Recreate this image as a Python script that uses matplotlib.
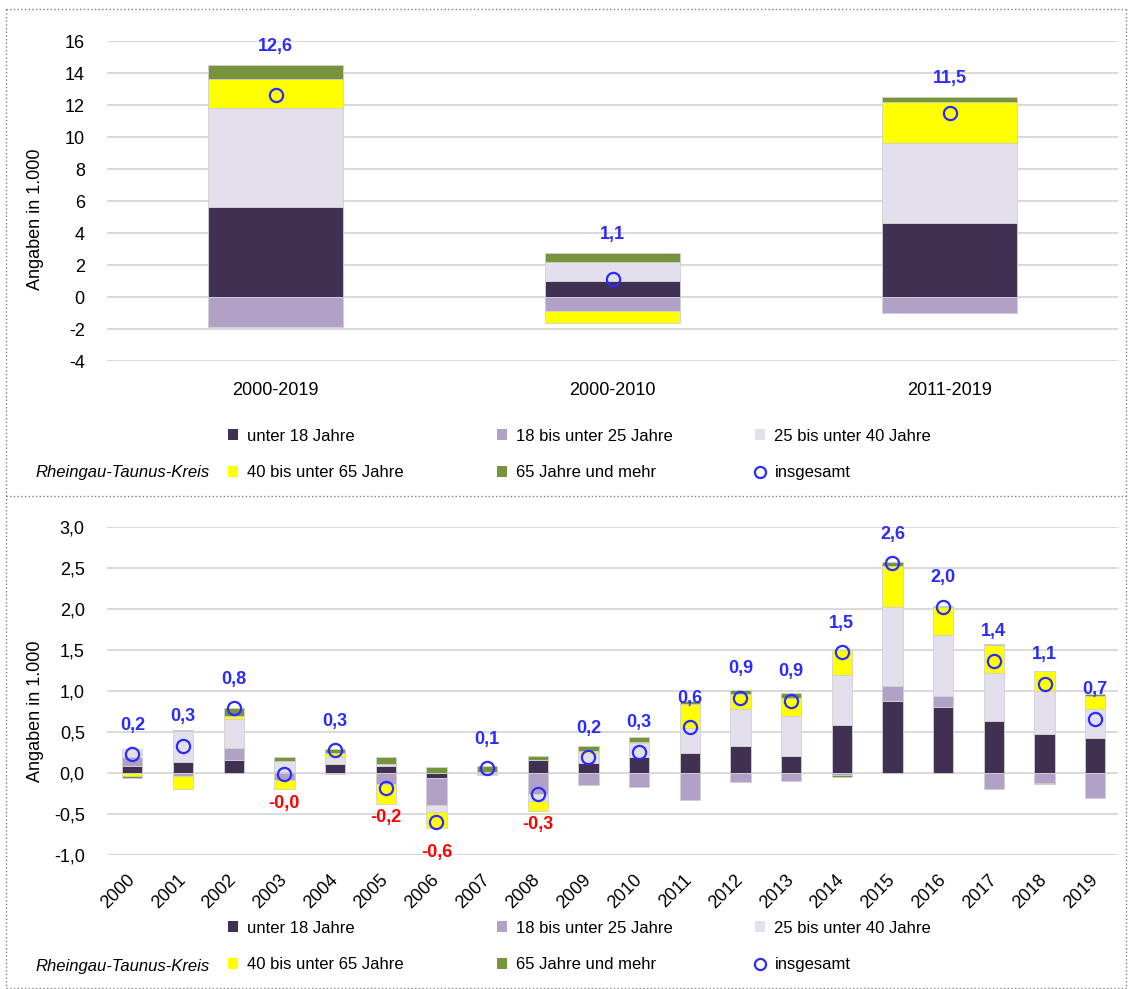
import numpy as np
import matplotlib.pyplot as plt
from matplotlib.patches import Patch
from matplotlib.lines import Line2D
from matplotlib.ticker import FuncFormatter

plt.rcParams['font.family'] = ['Liberation Sans Narrow', 'Liberation Sans', 'DejaVu Sans']

# --- data (Angaben in 1.000) ---
groups = ['unter 18 Jahre', '18 bis unter 25 Jahre', '25 bis unter 40 Jahre',
          '40 bis unter 65 Jahre', '65 Jahre und mehr']
total_name = 'insgesamt'
region = 'Rheingau-Taunus-Kreis'

periods = ['2000-2019', '2000-2010', '2011-2019']
per_u18 = [5.6, 1.0, 4.6]
per_18_25 = [-1.9, -0.9, -1.0]
per_25_40 = [6.2, 1.19, 5.0]
per_40_65 = [1.8, -0.73, 2.6]
per_65 = [0.9, 0.56, 0.3]
per_total = [12.6, 1.12, 11.5]

years = [str(y) for y in range(2000, 2020)]
yr_u18 = [0.08, 0.13, 0.155, 0.01, 0.11, 0.085, -0.06, 0.0, 0.16, 0.126,
          0.195, 0.245, 0.335, 0.21, 0.58, 0.875, 0.80, 0.63, 0.475, 0.43]
yr_18_25 = [0.11, -0.04, 0.15, -0.08, -0.01, -0.13, -0.33, -0.01, -0.26, -0.15,
            -0.17, -0.33, -0.11, -0.1, -0.03, 0.19, 0.135, -0.2, -0.12, -0.31]
yr_25_40 = [0.10, 0.38, 0.355, 0.14, 0.09, 0.025, -0.085, 0.01, -0.08, 0.118,
            0.17, 0.305, 0.44, 0.48, 0.62, 0.955, 0.75, 0.59, 0.53, 0.35]
yr_40_65 = [-0.04, -0.16, 0.035, -0.12, 0.045, -0.245, -0.2, -0.02, -0.125, 0.024,
            0.015, 0.29, 0.185, 0.23, 0.3, 0.51, 0.335, 0.335, 0.245, 0.155]
yr_65 = [-0.02, 0.02, 0.1, 0.04, 0.045, 0.09, 0.07, 0.075, 0.045, 0.065,
         0.06, 0.04, 0.055, 0.06, -0.02, 0.04, 0.02, 0.02, -0.02, 0.03]
yr_total = [0.23, 0.33, 0.79, -0.01, 0.28, -0.18, -0.6, 0.06, -0.26, 0.19,
            0.26, 0.56, 0.92, 0.88, 1.47, 2.56, 2.03, 1.37, 1.09, 0.66]

colors = ['#403152', '#B2A1C7', '#E4DFEC', '#FFFF00', '#77933C']
blue = '#2B2BFF'
red = '#FF0000'
grid_col = '#D9D9D9'
fs_tick = 13
fs_leg = 12
fs_lab = 13

W, H = 1128, 989
fig = plt.figure(figsize=(W / 100, H / 100), dpi=100)


def fx(px):
    return px / W


def fy(py):
    return 1 - py / H


def stack(ax, x, series, width):
    pos = np.zeros(len(x))
    neg = np.zeros(len(x))
    for vals, col in zip(series, colors):
        v = np.asarray(vals, float)
        bottom = np.where(v >= 0, pos, neg)
        ax.bar(x, v, width, bottom=bottom, color=col, edgecolor='#D0D0D0',
               linewidth=0.6, zorder=2)
        pos = pos + np.clip(v, 0, None)
        neg = neg + np.clip(v, None, 0)
    return pos, neg


def style(ax):
    for s in ax.spines.values():
        s.set_visible(False)
    ax.yaxis.grid(True, color=grid_col, linewidth=1.4, zorder=0)
    ax.set_axisbelow(True)
    ax.tick_params(axis='both', length=0, labelsize=fs_tick)
    ax.tick_params(axis='y', pad=16)


def dec(v, p=None):
    return f"{v:.1f}".replace('.', ',')


def legend(ypx1, ypx2):
    handles = [Patch(facecolor=c) for c in colors]
    handles.append(Line2D([], [], marker='o', linestyle='none', markersize=8,
                          markerfacecolor='none', markeredgecolor=blue, markeredgewidth=1.6))
    labels = groups + [total_name]
    xs = [228, 497, 755]
    for col in range(3):
        fig.legend([handles[col], handles[col + 3]], [labels[col], labels[col + 3]],
                   loc='center left', bbox_to_anchor=(fx(xs[col]), fy((ypx1 + ypx2) / 2)),
                   frameon=False, fontsize=fs_leg, handlelength=0.62, handleheight=0.62,
                   handletextpad=0.55, labelspacing=1.3, borderpad=0, borderaxespad=0)
    fig.text(fx(35), fy(ypx2), region, fontsize=fs_leg, style='italic',
             ha='left', va='center')


# --- top: periods ---
ax1 = fig.add_axes([fx(107), fy(361), fx(1118) - fx(107), fy(41) - fy(361)])
x1 = np.arange(len(periods))
top1, _ = stack(ax1, x1, [per_u18, per_18_25, per_25_40, per_40_65, per_65], 0.4)
ax1.plot(x1, per_total, 'o', ms=9.5, mfc='none', mec=blue, mew=1.6, zorder=4)
for xi, t, v in zip(x1, top1, per_total):
    ax1.annotate(dec(v), (xi, t), xytext=(0, 18), textcoords='offset pixels',
                 ha='center', va='center', color=blue, fontsize=fs_lab, fontweight='bold')
ax1.set_xlim(-0.5, 2.5)
ax1.set_ylim(-4, 16)
ax1.set_yticks(np.arange(-4, 17, 2))
ax1.yaxis.set_major_formatter(FuncFormatter(lambda v, p: f"{v:.0f}"))
ax1.set_xticks(x1, periods)
style(ax1)
ax1.tick_params(axis='x', pad=15)
fig.text(fx(35), fy(219), 'Angaben in 1.000', rotation=90, fontsize=fs_tick,
         ha='center', va='center')
legend(436, 473)

# --- bottom: years ---
ax2 = fig.add_axes([fx(107), fy(855), fx(1118) - fx(107), fy(527) - fy(855)])
x2 = np.arange(len(years))
stack(ax2, x2, [yr_u18, yr_18_25, yr_25_40, yr_40_65, yr_65], 0.4)
ax2.plot(x2, yr_total, 'o', ms=9.5, mfc='none', mec=blue, mew=1.6, zorder=4)
for xi, v in zip(x2, yr_total):
    off = 29 if v >= 0 else -30
    ax2.annotate(dec(v), (xi, v), xytext=(0, off), textcoords='offset pixels',
                 ha='center', va='center', color=blue if v >= 0 else red,
                 fontsize=fs_lab, fontweight='bold')
ax2.set_xlim(-0.5, 19.45)
ax2.set_ylim(-1, 3)
ax2.set_yticks(np.arange(-1, 3.01, 0.5))
ax2.yaxis.set_major_formatter(FuncFormatter(dec))
ax2.set_xticks(x2, years, rotation=45, ha='right', va='center', rotation_mode='anchor')
style(ax2)
ax2.tick_params(axis='x', pad=16)
fig.text(fx(35), fy(711), 'Angaben in 1.000', rotation=90, fontsize=fs_tick,
         ha='center', va='center')
legend(927, 966)

# dotted frame
frame = dict(color='#808080', linestyle=':', linewidth=1.0, transform=fig.transFigure)
fig.add_artist(Line2D([fx(6), fx(1126)], [fy(9), fy(9)], **frame))
fig.add_artist(Line2D([fx(6), fx(1126)], [fy(496), fy(496)], **frame))
fig.add_artist(Line2D([fx(6), fx(1126)], [fy(988), fy(988)], **frame))
fig.add_artist(Line2D([fx(6), fx(6)], [fy(9), fy(988)], **frame))
fig.add_artist(Line2D([fx(1126), fx(1126)], [fy(9), fy(988)], **frame))

fig.savefig('out.png', dpi=100)
